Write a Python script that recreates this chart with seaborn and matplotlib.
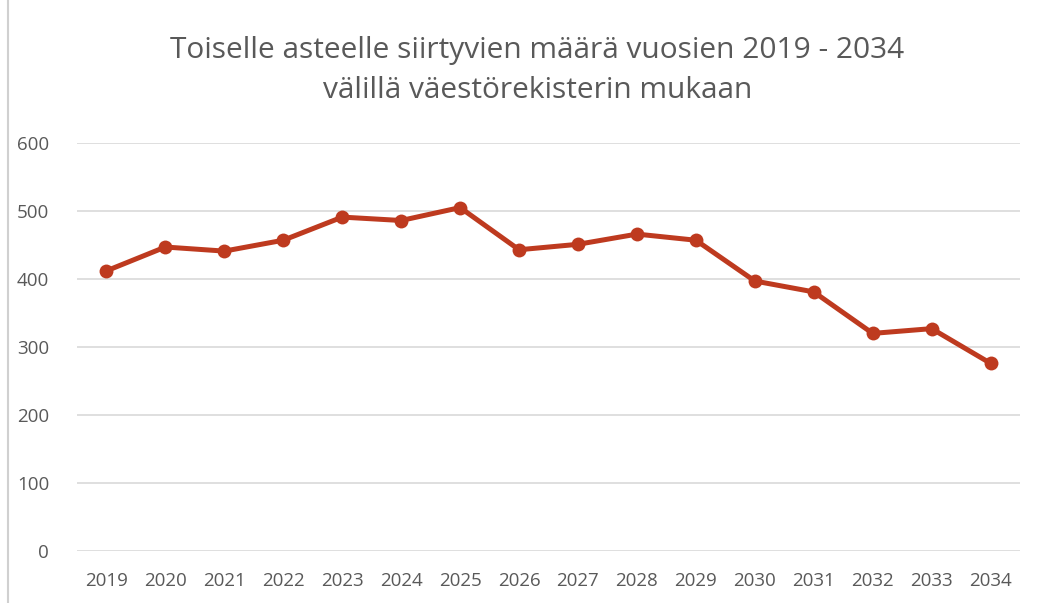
import matplotlib
matplotlib.use("Agg")
import matplotlib.pyplot as plt
import seaborn as sns
import pandas as pd
from matplotlib.lines import Line2D

years = [2019, 2020, 2021, 2022, 2023, 2024, 2025, 2026,
         2027, 2028, 2029, 2030, 2031, 2032, 2033, 2034]
counts = [412, 447, 441, 457, 491, 486, 505, 443,
          451, 466, 457, 397, 381, 320, 327, 276]
y_ticks = [0, 100, 200, 300, 400, 500, 600]
title = "Toiselle asteelle siirtyvien määrä vuosien 2019 - 2034\nvälillä väestörekisterin mukaan"

df = pd.DataFrame({"vuosi": years, "maara": counts})

sns.set_theme(style="white")
plt.rcParams["font.family"] = ["Open Sans", "DejaVu Sans"]
text_col = "#595959"

fig = plt.figure(figsize=(10.62, 6.03), dpi=100)
ax = fig.add_axes([0.0725, 0.0862, 0.888, 0.6767])

# gridlines first so the line sits on top
for v in y_ticks:
    ax.axhline(v, color="#D9D9D9", linewidth=1.2, zorder=0)

sns.lineplot(data=df, x="vuosi", y="maara", ax=ax, color="#BE3A1F",
             linewidth=3.6, marker="o", markersize=10,
             markeredgewidth=0, zorder=3)

ax.set_xlim(years[0] - 0.5, years[-1] + 0.5)
ax.set_ylim(0, 600)
ax.set_xticks(years)
ax.set_xticklabels([str(y) for y in years])
ax.set_yticks(y_ticks)
ax.tick_params(axis="x", length=0, pad=15, labelsize=13.5, labelcolor=text_col)
ax.tick_params(axis="y", length=0, pad=20, labelsize=13.5, labelcolor=text_col)
ax.set_xlabel("")
ax.set_ylabel("")
for s in ax.spines.values():
    s.set_visible(False)

fig.text(0.506, 0.883, title, ha="center", va="center", fontsize=21.5,
         color=text_col, linespacing=1.5)

# light chart border on the left edge
fig.add_artist(Line2D([0.008, 0.008], [0, 1], color="#D0D0D0", linewidth=1.5,
                      transform=fig.transFigure))

fig.savefig("out.png", dpi=100)
